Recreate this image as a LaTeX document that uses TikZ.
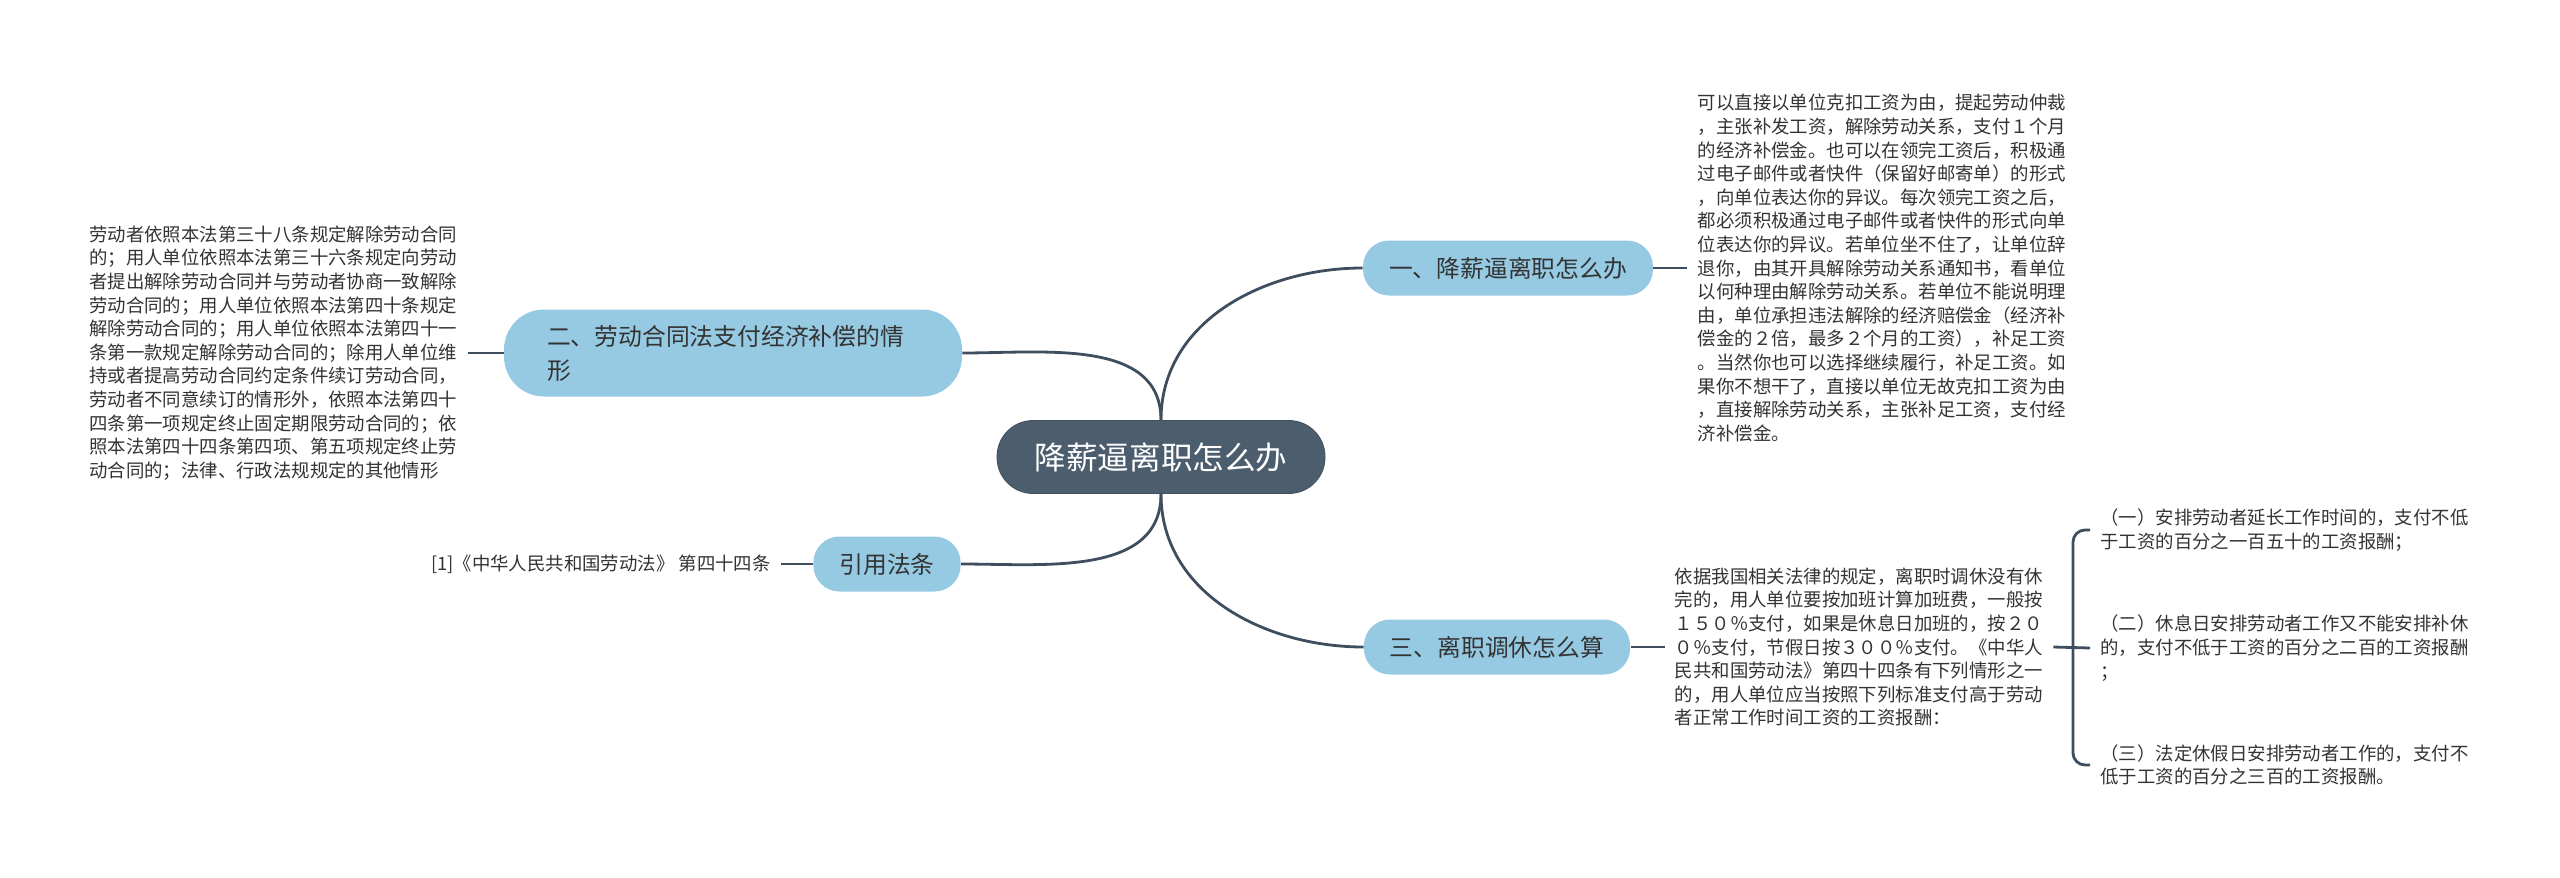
\documentclass[tikz,border=0pt]{standalone}
\usepackage{fontspec}
\setmainfont{Noto Sans CJK SC}
\usetikzlibrary{positioning}
\definecolor{rootfill}{RGB}{76,94,110}
\definecolor{topicfill}{RGB}{150,202,227}
\definecolor{linkcol}{RGB}{62,78,94}
\definecolor{textcol}{RGB}{51,51,51}

\begin{document}
\begin{tikzpicture}[x=0.5pt,y=-0.5pt,
		central/.style={fill=rootfill, draw=rootfill!85!black, text=white, font=\fontsize{15.8pt}{19pt}\selectfont, inner xsep=18.8pt, minimum height=36.5pt, rounded corners=18pt},
		topic/.style={fill=topicfill, text=textcol, font=\fontsize{11.9pt}{17pt}\selectfont, inner xsep=13pt, minimum height=27.5pt, rounded corners=13pt},
		detail/.style={text=textcol, font=\fontsize{9.2pt}{11.8pt}\selectfont, align=left, inner xsep=5pt, inner ysep=0pt},
		link/.style={draw=linkcol, line width=1.4pt},
	]
	\useasboundingbox (0,0) rectangle (2560,878);
	% Draw diagram elements
	\node (root) [central] at (1161,457) {降薪逼离职怎么办};
	\node (yi) [topic] at (1508,268) {一、降薪逼离职怎么办};
	\node (er) [topic,text width=186pt,align=left,inner xsep=21.5pt,minimum height=43.5pt,rounded corners=20pt] at (733,353) {二、劳动合同法支付经济补偿的情\\形};
	\node (cite) [topic] at (887,564) {引用法条};
	\node (san) [topic] at (1497,647) {三、离职调休怎么算};
	\node (yinote) [detail,right=17pt of yi] {可以直接以单位克扣工资为由，提起劳动仲裁\\
		，主张补发工资，解除劳动关系，支付１个月\\
		的经济补偿金。也可以在领完工资后，积极通\\
		过电子邮件或者快件（保留好邮寄单）的形式\\
		，向单位表达你的异议。每次领完工资之后，\\
		都必须积极通过电子邮件或者快件的形式向单\\
		位表达你的异议。若单位坐不住了，让单位辞\\
		退你，由其开具解除劳动关系通知书，看单位\\
		以何种理由解除劳动关系。若单位不能说明理\\
		由，单位承担违法解除的经济赔偿金（经济补\\
		偿金的２倍，最多２个月的工资），补足工资\\
		。当然你也可以选择继续履行，补足工资。如\\
		果你不想干了，直接以单位无故克扣工资为由\\
		，直接解除劳动关系，主张补足工资，支付经\\
		济补偿金。};
	\node (ernote) [detail,left=18pt of er] {劳动者依照本法第三十八条规定解除劳动合同\\
		的；用人单位依照本法第三十六条规定向劳动\\
		者提出解除劳动合同并与劳动者协商一致解除\\
		劳动合同的；用人单位依照本法第四十条规定\\
		解除劳动合同的；用人单位依照本法第四十一\\
		条第一款规定解除劳动合同的；除用人单位维\\
		持或者提高劳动合同约定条件续订劳动合同，\\
		劳动者不同意续订的情形外，依照本法第四十\\
		四条第一项规定终止固定期限劳动合同的；依\\
		照本法第四十四条第四项、第五项规定终止劳\\
		动合同的；法律、行政法规规定的其他情形};
	\node (citenote) [detail,left=16pt of cite] {[1]《中华人民共和国劳动法》 第四十四条};
	\node (sannote) [detail,right=17pt of san] {依据我国相关法律的规定，离职时调休没有休\\
		完的，用人单位要按加班计算加班费，一般按\\
		１５０％支付，如果是休息日加班的，按２０\\
		０％支付，节假日按３００％支付。《中华人\\
		民共和国劳动法》第四十四条有下列情形之一\\
		的，用人单位应当按照下列标准支付高于劳动\\
		者正常工作时间工资的工资报酬：};
	\node (itemone) [detail,anchor=west] at (2090,530) {（一）安排劳动者延长工作时间的，支付不低\\
		于工资的百分之一百五十的工资报酬；};
	\node (itemtwo) [detail,anchor=west] at (2090,648) {（二）休息日安排劳动者工作又不能安排补休\\
		的，支付不低于工资的百分之二百的工资报酬\\
		；};
	\node (itemthree) [detail,anchor=west] at (2090,765) {（三）法定休假日安排劳动者工作的，支付不\\
		低于工资的百分之三百的工资报酬。};
	\coordinate (spine) at (2073,648);
	% Draw connections between elements
	\draw[link] (root.north) to[out=90,in=180] (yi.west);
	\draw[link] (er.east) to[out=0,in=90] (root.north);
	\draw[link] (cite.east) to[out=0,in=-90] (root.south);
	\draw[link] (root.south) to[out=-90,in=180] (san.west);
	\draw[link] (yi) -- (yinote);
	\draw[link] (er) -- (ernote);
	\draw[link] (cite) -- (citenote);
	\draw[link] (san) -- (sannote);
	\draw[link] (sannote.east) -- (itemtwo.west);
	\draw[link,rounded corners=6pt] (itemone.west) -| (spine) |- (itemthree.west);
\end{tikzpicture}
\end{document}
